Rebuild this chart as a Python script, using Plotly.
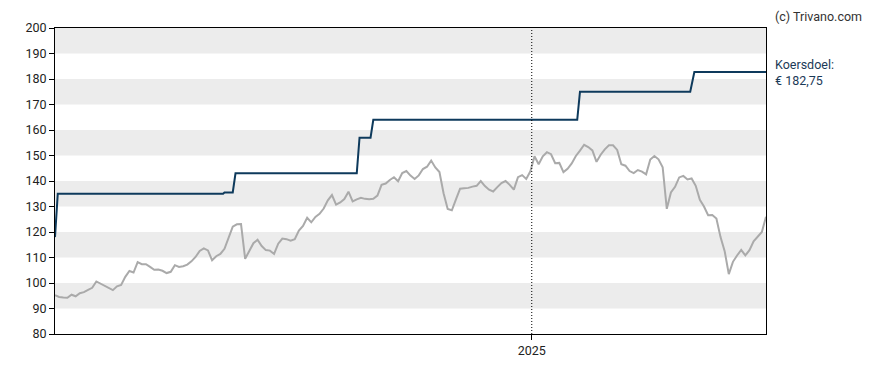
import pandas as pd
import plotly.graph_objects as go

# ---- data -------------------------------------------------------------
price_start = "2024-01-21"
price_step_days = 3
price_values = [
    95.2, 94.5, 94.3, 94.2, 95.4, 94.8, 96.0, 96.4, 97.3, 98.1,
    100.6, 99.8, 98.8, 98.2, 97.2, 98.7, 99.2, 102.4, 104.7, 104.1,
    108.2, 107.4, 107.4, 106.3, 105.2, 105.3, 104.8, 103.9, 104.4, 107.0,
    106.3, 106.6, 107.2, 108.5, 110.2, 112.6, 113.6, 112.8, 108.9, 110.5,
    111.4, 113.4, 117.5, 122.1, 123.0, 123.1, 109.5, 112.7, 115.6, 117.0,
    114.5, 112.9, 112.7, 111.4, 115.4, 117.4, 117.2, 116.6, 117.2, 120.6,
    122.4, 125.6, 123.8, 125.9, 127.1, 129.2, 132.4, 134.5, 130.7, 131.6,
    132.9, 135.8, 132.0, 132.8, 133.4, 133.0, 132.8, 133.0, 134.3, 138.5,
    139.0, 140.4, 141.5, 139.9, 143.1, 143.9, 142.1, 140.8, 142.2, 144.7,
    145.6, 148.0, 145.3, 143.5, 135.2, 129.0, 128.5, 132.8, 137.0, 137.2,
    137.3, 137.8, 138.1, 140.0, 138.0, 136.6, 135.9, 137.6, 139.2, 140.0,
    138.5, 136.6, 141.5, 142.3, 140.8, 143.8, 149.7, 146.6, 149.7, 151.3,
    150.5, 147.0, 147.1, 143.5, 144.8, 146.9, 149.8, 151.9, 154.2, 153.3,
    152.0, 147.5, 150.3, 152.4, 154.0, 154.0, 152.2, 146.6, 146.0, 143.9,
    143.1, 144.3, 143.7, 142.6, 148.4, 149.8, 148.5, 145.4, 129.1, 135.5,
    137.7, 141.4, 142.0, 140.6, 141.0, 138.1, 132.6, 130.0, 126.6, 126.7,
    125.3, 118.0, 112.5, 103.5, 108.3, 110.8, 113.0, 110.8, 112.9, 116.3,
    118.1, 120.0, 126.0,
]

target_dates = [
    "2024-01-21", "2024-01-23", "2024-05-22", "2024-05-23", "2024-05-29",
    "2024-05-31", "2024-08-27", "2024-08-29", "2024-09-06", "2024-09-08",
    "2025-02-03", "2025-02-05", "2025-04-26", "2025-04-29", "2025-06-20",
]
target_values = [
    118.0, 135.0, 135.0, 135.5, 135.5,
    143.0, 143.0, 157.0, 157.0, 164.0,
    164.0, 175.0, 175.0, 182.75, 182.75,
]

x_range = ["2024-01-21", "2025-06-20"]
year_tick = "2025-01-01"
year_label = "2025"
y_range = [80, 200]
band_lows = [90, 110, 130, 150, 170, 190]
band_height = 10
target_label = "Koersdoel:"
target_text = "€ 182,75"
credit = "(c) Trivano.com"

# ---- figure -----------------------------------------------------------
price_dates = pd.date_range(price_start, periods=len(price_values),
                            freq=f"{price_step_days}D")

fig = go.Figure()
fig.add_trace(go.Scatter(x=price_dates, y=price_values, mode="lines",
                         line=dict(color="#aaaaaa", width=2),
                         hoverinfo="skip", showlegend=False))
fig.add_trace(go.Scatter(x=pd.to_datetime(target_dates), y=target_values,
                         mode="lines",
                         line=dict(color="#0e3a5c", width=2),
                         hoverinfo="skip", showlegend=False))

shapes = []
for lo in band_lows:
    shapes.append(dict(type="rect", xref="x domain", yref="y",
                       x0=0, x1=1, y0=lo, y1=lo + band_height,
                       fillcolor="#ececec", line=dict(width=0),
                       layer="below"))
shapes.append(dict(type="line", xref="x", yref="y domain",
                   x0=year_tick, x1=year_tick, y0=0, y1=1,
                   line=dict(color="#000000", width=1, dash="1px,2px")))

fnt = "Roboto, 'Open Sans', sans-serif"
fig.update_layout(
    width=880, height=362,
    margin=dict(l=47, r=122, t=12, b=35),
    paper_bgcolor="white", plot_bgcolor="white",
    shapes=shapes,
    font=dict(family=fnt, size=12.5, color="#222222"),
    xaxis=dict(type="date", range=x_range, tickvals=[year_tick],
               ticktext=[year_label], ticks="outside", ticklen=5,
               tickcolor="#000", showgrid=False, zeroline=False,
               showline=True, linecolor="#000", linewidth=1, mirror=True,
               fixedrange=True),
    yaxis=dict(range=y_range, dtick=10, ticks="outside", ticklen=5,
               tickcolor="#000", showgrid=False, zeroline=False,
               showline=True, linecolor="#000", linewidth=1, mirror=True,
               fixedrange=True),
    annotations=[
        dict(text=credit, xref="paper", yref="paper", x=1.0098, y=1.037,
             xanchor="left", yanchor="middle", showarrow=False,
             font=dict(family=fnt, size=12.5, color="#333333")),
        dict(text=target_label, xref="paper", yref="paper", x=1.0098,
             y=0.882, xanchor="left", yanchor="middle", showarrow=False,
             font=dict(family=fnt, size=12.5, color="#1b3a57")),
        dict(text=target_text, xref="paper", yref="paper", x=1.0098,
             y=0.827, xanchor="left", yanchor="middle", showarrow=False,
             font=dict(family=fnt, size=12.5, color="#1b3a57")),
    ],
)

fig.write_html("out.html")
